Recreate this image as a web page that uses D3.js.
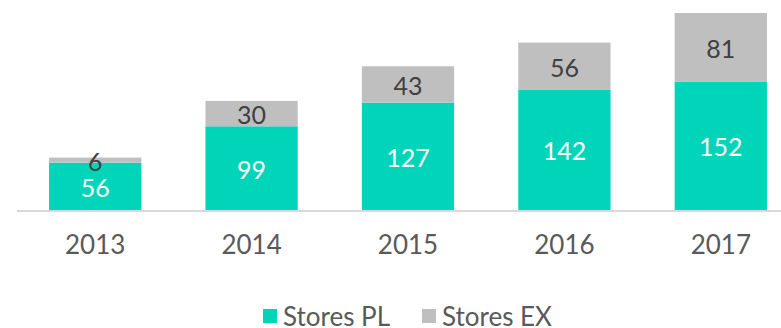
<!DOCTYPE html>
<html>
<head>
<meta charset="utf-8">
<script src="https://cdn.jsdelivr.net/npm/d3@7"></script>
<style>
  html, body { margin: 0; padding: 0; background: #fff; }
  svg { display: block; font-family: Lato, "Open Sans", sans-serif; }
</style>
</head>
<body>
<svg id="chart" width="781" height="328"></svg>
<script>
const years = ["2013", "2014", "2015", "2016", "2017"];
const storesPL = [56, 99, 127, 142, 152];
const storesEX = [6, 30, 43, 56, 81];
const seriesNames = ["Stores PL", "Stores EX"];
const seriesColors = ["#00d5b9", "#bfbfbf"];
const labelColors = ["#ffffff", "#404040"];

const svg = d3.select("#chart");
const baseY = 210;

const x = d3.scaleBand().domain(years).range([17, 799]).paddingInner(0.41).paddingOuter(0.205);
const y = d3.scaleLinear().domain([0, 233]).range([baseY, 13]);

const rows = years.map((yr, i) => ({ year: yr, pl: storesPL[i], ex: storesEX[i] }));
const stack = d3.stack().keys(["pl", "ex"])(rows);

const layers = svg.append("g").selectAll("g").data(stack).join("g")
  .attr("fill", (d, i) => seriesColors[i]);

layers.selectAll("rect").data(d => d).join("rect")
  .attr("x", d => x(d.data.year))
  .attr("width", x.bandwidth())
  .attr("y", d => y(d[1]))
  .attr("height", d => y(d[0]) - y(d[1]));

// value labels centred in each segment
layers.each(function(layer, li) {
  d3.select(this).selectAll("text").data(layer).join("text")
    .attr("x", d => x(d.data.year) + x.bandwidth() / 2)
    .attr("y", d => (y(d[0]) + y(d[1])) / 2)
    .attr("dy", "0.42em")
    .attr("text-anchor", "middle")
    .attr("font-size", 25)
    .attr("fill", labelColors[li])
    .text(d => d.data[layer.key]);
});

// category axis
const axis = svg.append("g").attr("transform", `translate(0,${baseY})`)
  .call(d3.axisBottom(x).tickSize(0).tickPadding(26));
axis.select(".domain").attr("stroke", "#d9d9d9").attr("stroke-width", 2)
  .attr("d", "M17,1H781");
axis.selectAll("text").attr("font-size", 26).attr("fill", "#595959")
  .attr("font-family", "Lato, sans-serif");

// legend
const legend = svg.append("g").attr("transform", "translate(263,309)");
const items = legend.selectAll("g").data(seriesNames).join("g")
  .attr("transform", (d, i) => `translate(${i * 159},0)`);
items.append("rect").attr("width", 14).attr("height", 14)
  .attr("fill", (d, i) => seriesColors[i]);
items.append("text").attr("x", 20).attr("y", 8).attr("dy", "0.35em")
  .attr("font-size", 26).attr("fill", "#595959").text(d => d);
</script>
</body>
</html>
